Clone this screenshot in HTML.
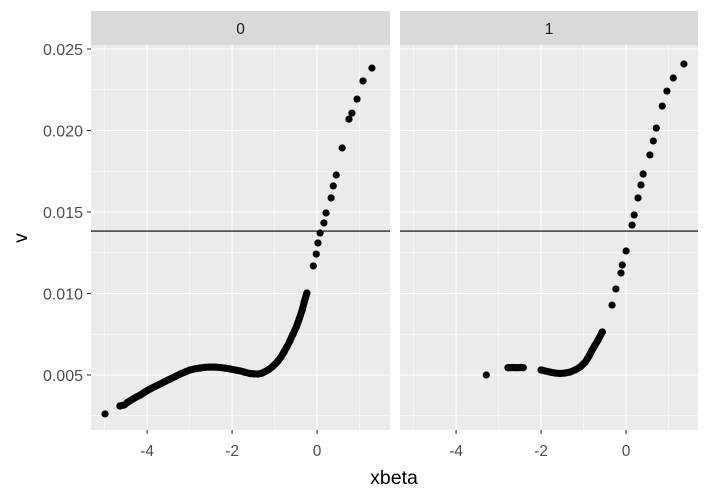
<!DOCTYPE html>
<html><head><meta charset="utf-8"><style>
body{margin:0;background:#fff}
svg{display:block;font-family:"Liberation Sans",sans-serif}
</style></head><body>
<svg id="chart" width="709" height="498"></svg>
<script>
const facets=["0","1"];
const x0=[-4.99,-4.64,-4.54,-4.45,-4.33,-4.25,-4.16,-4.05,-3.93,-3.81,-3.69,-3.58,-3.46,-3.34,-3.22,-3.1,-2.99,-2.87,-2.75,-2.64,-2.52,-2.4,-2.28,-2.16,-2.05,-1.93,-1.81,-1.7,-1.58,-1.48,-1.39,-1.3,-1.22,-1.14,-1.06,-0.99,-0.92,-0.85,-0.78,-0.71,-0.64,-0.57,-0.49,-0.42,-0.35,-0.3,-0.24,-0.09,-0.02,0.02,0.07,0.16,0.21,0.33,0.38,0.45,0.59,0.75,0.82,0.94,1.08,1.29];
const y0=[0.00261,0.0031,0.00316,0.00334,0.00353,0.00365,0.00377,0.00396,0.00414,0.0043,0.00445,0.0046,0.00475,0.0049,0.00506,0.00519,0.00531,0.00538,0.00543,0.00547,0.00549,0.00548,0.00546,0.00542,0.00537,0.00531,0.00525,0.00517,0.00509,0.00507,0.00506,0.00511,0.00521,0.00533,0.00549,0.00566,0.00586,0.0061,0.00641,0.00673,0.00709,0.00749,0.00794,0.00845,0.00899,0.0095,0.01003,0.01169,0.01242,0.0131,0.01371,0.01433,0.01494,0.01586,0.0166,0.01727,0.01893,0.0207,0.02107,0.02193,0.02304,0.02383];
const x1=[-3.29,-2.78,-2.72,-2.66,-2.6,-2.54,-2.48,-2.42,-2.0,-1.91,-1.79,-1.67,-1.55,-1.44,-1.32,-1.2,-1.08,-0.96,-0.87,-0.8,-0.73,-0.66,-0.56,-0.33,-0.24,-0.12,-0.09,0.0,0.14,0.19,0.28,0.35,0.4,0.56,0.64,0.71,0.85,0.96,1.11,1.36];
const y1=[0.005,0.00545,0.00545,0.00546,0.00545,0.00545,0.00546,0.00545,0.00531,0.00525,0.00518,0.00512,0.00509,0.00512,0.00518,0.00531,0.00549,0.0058,0.00617,0.00653,0.00684,0.00715,0.00764,0.00929,0.01028,0.01126,0.01175,0.01261,0.0142,0.01482,0.01586,0.01666,0.01733,0.0185,0.01936,0.02015,0.0215,0.02242,0.02322,0.02408];
const hline=0.01383;
const xTicks=[-4,-2,0];
const yTicks=[0.005,0.010,0.015,0.020,0.025];
const yTickLabels=["0.005","0.010","0.015","0.020","0.025"];

const svg=document.getElementById('chart');
const NS='http://www.w3.org/2000/svg';
function mk(t,a,p){const e=document.createElementNS(NS,t);for(const k in a)e.setAttribute(k,a[k]);(p||svg).appendChild(e);return e;}
const panels=[{l:91,r:390},{l:400,r:698}];
const panelTop=45,panelBot=430;
function xs(v,p){return panels[p].l+(v+5.32)*42.5;}
function ys(v){return 49+(0.025-v)*16300;}
const xsData=[x0,x1], ysData=[y0,y1];
panels.forEach((P,pi)=>{
  const g=mk('g',{});
  
  
  const bg=mk('rect',{x:P.l,y:panelTop,width:P.r-P.l,height:panelBot-panelTop,fill:'#ebebeb'},g);
  
  
  [-5,-3,-1,1].forEach(v=>{const x=xs(v,pi);if(x>P.l&&x<P.r){const l=mk('line',{x1:x,x2:x,y1:panelTop,y2:panelBot,stroke:'#fff','stroke-width':0.55},g);}});
  [0.0025,0.0075,0.0125,0.0175,0.0225].forEach(v=>{const y=ys(v);const l=mk('line',{x1:P.l,x2:P.r,y1:y,y2:y,stroke:'#fff','stroke-width':0.55},g);});
  xTicks.forEach(v=>{const x=xs(v,pi);const l=mk('line',{x1:x,x2:x,y1:panelTop,y2:panelBot,stroke:'#fff','stroke-width':1.1},g);
    const t=mk('line',{x1:x,x2:x,y1:panelBot,y2:panelBot+4,stroke:'#333','stroke-width':1.1});
    const tx=mk('text',{x:x,y:panelBot+26,'text-anchor':'middle','font-size':15.5,fill:'#4d4d4d'});tx.textContent=v<0?'-'+Math.abs(v):String(v);});
  yTicks.forEach(v=>{const y=ys(v);const l=mk('line',{x1:P.l,x2:P.r,y1:y,y2:y,stroke:'#fff','stroke-width':1.1},g);});
  const sr=mk('rect',{x:P.l,y:11,width:P.r-P.l,height:34,fill:'#d9d9d9'});
  
  
  const st=mk('text',{x:(P.l+P.r)/2,y:34,'text-anchor':'middle','font-size':15.5,fill:'#1a1a1a'});
  st.textContent=facets[pi];
  
  
  const xa=xsData[pi], ya=ysData[pi];
  let d='';
  for(let i=1;i<xa.length;i++){
    const ax=xs(xa[i-1],pi), ay=ys(ya[i-1]), bx=xs(xa[i],pi), by=ys(ya[i]);
    if(Math.hypot(bx-ax,by-ay)<12 && ya[i]<0.0102 && ya[i-1]<0.0102){
      d+='M'+ax+' '+ay+'L'+bx+' '+by;
    }
  }
  const band=mk('path',{d:d,stroke:'#000','stroke-width':7,'stroke-linecap':'round',fill:'none'},g);
  
  
  xa.forEach((v,i)=>{const c=mk('circle',{cx:xs(v,pi),cy:ys(ya[i]),r:3.6,fill:'#000'},g);
    
    });
  const h=mk('line',{x1:P.l,x2:P.r,y1:ys(hline),y2:ys(hline),stroke:'#000','stroke-width':1.2},g);
  
  
});
yTicks.forEach((v,i)=>{const y=ys(v);
  const t=mk('line',{x1:87,x2:91,y1:y,y2:y,stroke:'#333','stroke-width':1.1});
  const tx=mk('text',{x:83,y:y+6,'text-anchor':'end','font-size':16,fill:'#4d4d4d'});tx.textContent=yTickLabels[i];});
const xt=mk('text',{x:394,y:484,'text-anchor':'middle','font-size':19.5,fill:'#000'});
xt.textContent='xbeta';


const yt=mk('text',{x:0,y:0,'text-anchor':'middle','font-size':19.5,fill:'#000',transform:'translate(27,238) rotate(-90)'});
yt.textContent='v';


</script>
</body></html>
